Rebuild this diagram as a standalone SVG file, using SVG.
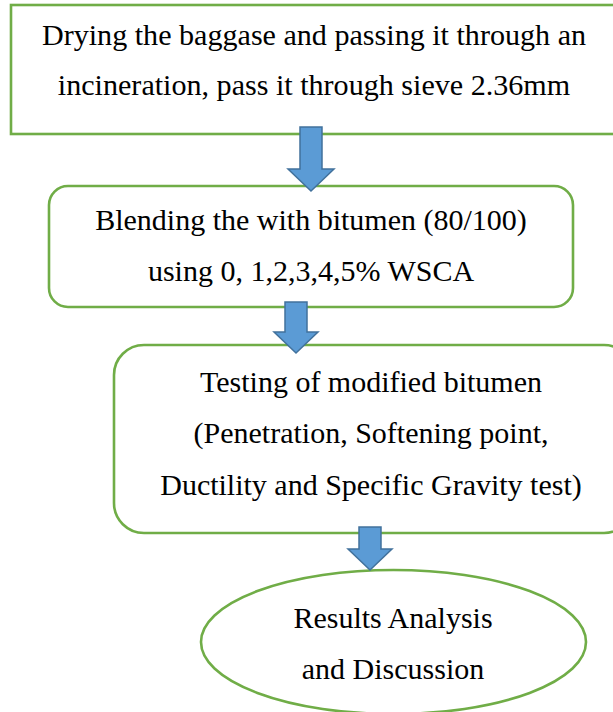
<svg xmlns="http://www.w3.org/2000/svg" width="613" height="712" viewBox="0 0 613 712">
  <style>
    .box { fill: #ffffff; stroke: #70AD47; stroke-width: 2.6; }
    .arrow { fill: #5B9BD5; stroke: #41719C; stroke-width: 1.5; stroke-linejoin: miter; }
    text { font-family: "Liberation Serif", "Times New Roman", serif; fill: #000000; text-anchor: middle; }
    .t1 { font-size: 30.1px; }
    .t { font-size: 30px; }
  </style>
  <rect x="0" y="0" width="613" height="712" fill="#ffffff"/>
  <g id="node-drying">
    <rect class="box" x="11" y="5" width="610" height="129"/>
    <text class="t1" x="314" y="45">Drying the baggase and passing it through an</text>
    <text class="t1" x="314" y="95">incineration, pass it through sieve 2.36mm</text>
  </g>
  <g id="node-blending">
    <rect class="box" x="49" y="186" width="524" height="121" rx="19" ry="19"/>
    <text class="t" x="311" y="230">Blending the with bitumen (80/100)</text>
    <text class="t" x="311" y="281">using 0, 1,2,3,4,5% WSCA</text>
  </g>
  <g id="node-testing">
    <rect class="box" x="114" y="345" width="520" height="188" rx="30" ry="30"/>
    <text class="t" x="371" y="392">Testing of modified bitumen</text>
    <text class="t" x="371" y="443">(Penetration, Softening point,</text>
    <text class="t" x="371" y="495">Ductility and Specific Gravity test)</text>
  </g>
  <g id="node-results">
    <ellipse class="box" cx="393.5" cy="642" rx="192.5" ry="72"/>
    <text class="t" x="393" y="628">Results Analysis</text>
    <text class="t" x="393" y="679">and Discussion</text>
  </g>
  <g id="connectors">
    <path class="arrow" d="M300,127 L322,127 L322,169 L334,169 L311,191 L288,169 L300,169 Z"/>
    <path class="arrow" d="M285,302 L307,302 L307,332 L318,332 L296,353 L274,332 L285,332 Z"/>
    <path class="arrow" d="M359,527 L381,527 L381,549 L392,549 L370,570 L348,549 L359,549 Z"/>
  </g>
</svg>
